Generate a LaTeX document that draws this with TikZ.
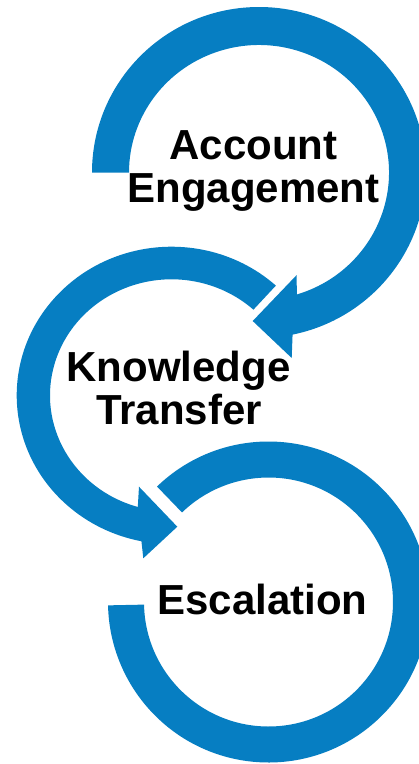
\documentclass[tikz,border=0pt]{standalone}
\usepackage{fontspec}
\setmainfont{Liberation Sans}
\definecolor{ringblue}{RGB}{6,126,194}
\begin{document}
\begin{tikzpicture}[x=1pt,y=1pt,
  ringfill/.style={fill=ringblue,draw=none},
  cycletext/.style={font=\bfseries\fontsize{42}{44}\selectfont,inner sep=0pt,anchor=base,text=black}]
\useasboundingbox (0,-764) rectangle (419,0);
\clip (0,-764) rectangle (419,0);

% lower ring: plain open circle, cut off on the left
\fill[ringfill]
  ([shift={(268.5,-602)}]134:160.5)
  arc[start angle=134,end angle=-178.8,radius=160.5]
  -- ([shift={(268.5,-602)}]-178.8:124.5)
  arc[start angle=-178.8,end angle=134,radius=124.5] -- cycle;

% middle ring: counter-clockwise, arrow head pointing down to the lower ring
\fill[ringfill]
  ([shift={(171.5,-395.4)}]47.6:154.8 and 148.7)
  arc[start angle=47.6,end angle=258.8,x radius=154.8,y radius=148.7]
  -- (143.3,-558.3) -- (177.3,-526.7) -- (139,-486.7)
  -- ([shift={(171.5,-395.4)}]253.9:121.5 and 116.1)
  arc[start angle=253.9,end angle=47.6,x radius=121.5,y radius=116.1] -- cycle;

% upper ring: clockwise, arrow head pointing to the middle ring
\fill[ringfill]
  (92,-172.5)
  arc[start angle=180,end angle=-78.4,x radius=167,y radius=165.5]
  -- (291.7,-358) -- (252.7,-321) -- (296.7,-275)
  -- ([shift={(259,-172.5)}]-73.1:130 and 127.5)
  arc[start angle=-73.1,end angle=180,x radius=130,y radius=127.5] -- cycle;

% stage labels
\node[cycletext] (acc)   at (253.5,-159.3) {Account};
\node[cycletext] (eng)   at (253.5,-202.7) {Engagement};
\node[cycletext] (know)  at (178.5,-381.7) {Knowledge};
\node[cycletext] (trans) at (179,-424)     {Transfer};
\node[cycletext] (esc)   at (262.5,-614.3) {Escalation};
\end{tikzpicture}
\end{document}
